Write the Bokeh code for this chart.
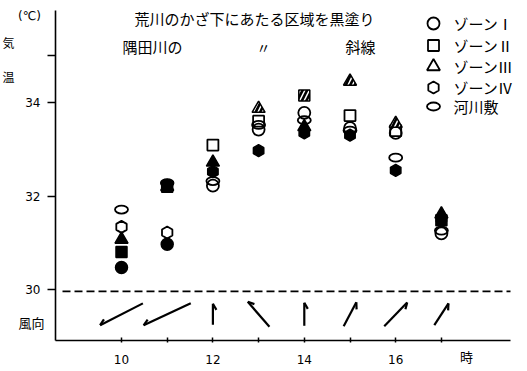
import math
from bokeh.plotting import figure
from bokeh.models import FixedTicker, Label
from bokeh.embed import file_html
from bokeh.resources import INLINE

# ---------------- data ----------------
hours = [10, 11, 12, 13, 14, 15, 16, 17]

zone1 = [30.47, 30.97, 32.22, 33.42, 33.78, 33.45, 33.35, 31.20]
zone1_fill = ["F", "F", "O", "O", "O", "O", "O", "O"]
zone2 = [30.80, 32.20, 33.09, 33.60, 34.15, 33.72, 33.40, 31.48]
zone2_fill = ["F", "F", "O", "O", "H", "O", "O", "F"]
zone3 = [31.07, 32.20, 32.72, 33.87, 33.48, 34.45, 33.55, 31.61]
zone3_fill = ["F", "F", "F", "H", "F", "H", "H", "F"]
zone4 = [31.34, 31.22, 32.52, 32.97, 33.35, 33.30, 32.55, 31.52]
zone4_fill = ["O", "O", "F", "F", "F", "F", "F", "F"]
river = [31.71, 32.28, 32.32, 33.52, 33.62, 33.40, 32.82, 31.26]
river_fill = ["O", "F", "O", "O", "O", "O", "O", "O"]

series_names = ["ゾーンⅠ", "ゾーンⅡ", "ゾーンⅢ", "ゾーンⅣ", "河川敷"]

# wind: direction the arrow points (deg, ccw from east) and arrow length
wind_dir_deg = [207, 205, 90, 131, 90, 62, 46, 57]
wind_len = [48, 52, 21, 33, 23, 27, 33, 26]
wind_level = 29.47

ref_temp = 29.96

x_ticks = [10, 11, 12, 13, 14, 15, 16, 17]
x_labels = {10: "10", 11: "", 12: "12", 13: "", 14: "14", 15: "", 16: "16", 17: ""}
y_ticks = [30, 32, 34, 35]
y_labels = {30: "30", 32: "32", 34: "34", 35: ""}

# ---------------- layout ----------------
W, H = 527, 370
# pixel mapping: x px = 121 + (h-10)*45.7 ; y px = 289 - (T-30)*46.75
KX, KY = 45.7, 46.75
X0 = 10 + (0 - 121) / KX
X1 = X0 + W / KX
Y1 = 30 + (289 - 0) / KY
Y0 = Y1 - H / KY


def dx(px):
    return 10 + (px - 121) / KX


def dy(py):
    return 30 + (289 - py) / KY


AX_X = dx(55)     # where the y axis stands
AX_Y = dy(340)    # where the x axis stands
AX_XEND = dx(510)
AX_YEND = dy(10)

JP = "Noto Sans CJK JP"
NUM = "DejaVu Sans"

p = figure(width=W, height=H, x_range=(X0, X1), y_range=(Y0, Y1),
           output_backend="svg", toolbar_location=None,
           min_border_left=0, min_border_top=0,
           min_border_right=0, min_border_bottom=0)
p.outline_line_color = None
p.grid.visible = False
p.background_fill_color = "white"
p.border_fill_color = "white"

p.xaxis.fixed_location = AX_Y
p.xaxis.bounds = (AX_X, AX_XEND)
p.xaxis.ticker = FixedTicker(ticks=x_ticks)
p.xaxis.major_label_overrides = x_labels
p.xaxis.minor_tick_line_color = None
p.xaxis.major_tick_in = 3
p.xaxis.major_tick_out = 2
p.xaxis.major_label_standoff = 12
p.xaxis.axis_line_width = 1.6
p.xaxis.major_tick_line_width = 1.5
p.xaxis.major_label_text_font = NUM
p.xaxis.major_label_text_font_size = "12px"
p.xaxis.major_label_text_color = "black"

p.yaxis.fixed_location = AX_X
p.yaxis.bounds = (AX_Y, AX_YEND)
p.yaxis.ticker = FixedTicker(ticks=y_ticks)
p.yaxis.major_label_overrides = y_labels
p.yaxis.minor_tick_line_color = None
p.yaxis.major_tick_in = 0
p.yaxis.major_tick_out = 8
p.yaxis.major_label_standoff = 7
p.yaxis.axis_line_width = 1.6
p.yaxis.major_tick_line_width = 1.5
p.yaxis.major_label_text_font = NUM
p.yaxis.major_label_text_font_size = "12px"
p.yaxis.major_label_text_color = "black"

# reference line at 30
p.segment([dx(62)], [ref_temp], [AX_XEND], [ref_temp], line_color="black",
          line_dash="8 4", line_width=1.6)

# ---------------- markers ----------------
markers = [("circle", zone1, zone1_fill, 12, 0.0),
           ("square", zone2, zone2_fill, 11, 0.0),
           ("triangle", zone3, zone3_fill, 13, 0.0),
           ("hex", zone4, zone4_fill, 12, math.pi / 6)]

for name, (mk, vals, fills, sz, ang) in zip(series_names, markers):
    xs = [h for h, f in zip(hours, fills) if f == "O"]
    ys = [v for v, f in zip(vals, fills) if f == "O"]
    p.scatter(xs, ys, marker=mk, size=sz, angle=ang,
              fill_color=None, line_color="black", line_width=1.8)
xs = [h for h, f in zip(hours, river_fill) if f == "O"]
ys = [v for v, f in zip(river, river_fill) if f == "O"]
p.ellipse(xs, ys, width=13, height=8, width_units="screen",
          height_units="screen", fill_color=None,
          line_color="black", line_width=1.8)

for name, (mk, vals, fills, sz, ang) in zip(series_names, markers):
    xs = [h for h, f in zip(hours, fills) if f == "F"]
    ys = [v for v, f in zip(vals, fills) if f == "F"]
    p.scatter(xs, ys, marker=mk, size=sz, angle=ang,
              fill_color="black", line_color="black", line_width=1.5)
    xs = [h for h, f in zip(hours, fills) if f == "H"]
    ys = [v for v, f in zip(vals, fills) if f == "H"]
    p.scatter(xs, ys, marker=mk, size=sz, angle=ang,
              fill_color="black", line_color="black", line_width=1.5,
              hatch_pattern="/", hatch_color="white", hatch_scale=9,
              hatch_weight=1.5)
xs = [h for h, f in zip(hours, river_fill) if f == "F"]
ys = [v for v, f in zip(river, river_fill) if f == "F"]
p.ellipse(xs, ys, width=13, height=8, width_units="screen",
          height_units="screen", fill_color="black",
          line_color="black", line_width=1.5)

# ---------------- legend (drawn as key) ----------------
leg_rows = [23, 45, 66, 87, 106]
leg_x = dx(433)
for (mk, vals, fills, sz, ang), ry in zip(markers, leg_rows[:4]):
    p.scatter([leg_x], [dy(ry)], marker=mk, size=sz, angle=ang,
              fill_color=None, line_color="black", line_width=1.8)
p.ellipse([leg_x], [dy(leg_rows[4])], width=13, height=8, width_units="screen",
          height_units="screen", fill_color=None, line_color="black",
          line_width=1.8)
for name, ry in zip(series_names, leg_rows):
    p.add_layout(Label(x=dx(453), y=dy(ry), text=name, text_font=JP,
                       text_font_size="15px", text_align="left",
                       text_baseline="middle", text_color="black"))

# ---------------- wind arrows ----------------
sx0, sy0, sx1, sy1 = [], [], [], []
for h, a, L in zip(hours, wind_dir_deg, wind_len):
    ca, sa = math.cos(math.radians(a)), math.sin(math.radians(a))
    tx, ty = h + (L / 2) * ca / KX, wind_level + (L / 2) * sa / KY
    bx, by = h - (L / 2) * ca / KX, wind_level - (L / 2) * sa / KY
    sx0.append(bx); sy0.append(by); sx1.append(tx); sy1.append(ty)
    b = math.radians(a - 150)
    sx0.append(tx); sy0.append(ty)
    sx1.append(tx + 7 * math.cos(b) / KX); sy1.append(ty + 7 * math.sin(b) / KY)
p.segment(sx0, sy0, sx1, sy1, line_color="black", line_width=2.2)


# ---------------- texts ----------------
def lab(text, px, py, size="14px", align="center", font=JP):
    p.add_layout(Label(x=dx(px), y=dy(py), text=text, text_font=font,
                       text_font_size=size, text_align=align,
                       text_baseline="middle", text_color="black"))


lab("荒川のかざ下にあたる区域を黒塗り", 254, 18, "15px")
lab("隅田川の", 152, 46, "15px")
lab("〃", 263, 46, "14px")
lab("斜線", 360, 46, "15px")
lab("(℃)", 29, 15, "12px", font=NUM)
lab("気", 8, 42, "12px")
lab("温", 8, 76, "12px")
lab("風向", 31, 322, "13px")
lab("時", 466, 356, "13px")

open("out.html", "w").write(file_html(p, INLINE))
